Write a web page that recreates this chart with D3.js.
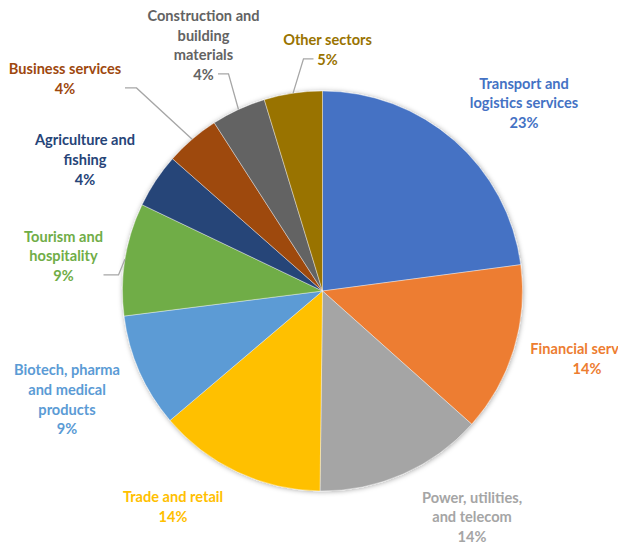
<!DOCTYPE html>
<html><head><meta charset="utf-8">
<script src="https://cdn.jsdelivr.net/npm/d3@7"></script>
<style>body{margin:0;background:#fff}svg{display:block}</style>
</head><body>
<svg id="chart" width="618" height="545"></svg>
<script>
const categories = ["Transport and logistics services","Financial services","Power, utilities, and telecom","Trade and retail","Biotech, pharma and medical products","Tourism and hospitality","Agriculture and fishing","Business services","Construction and building materials","Other sectors"];
const values = [22.9,13.7,13.6,13.6,9.2,9.1,4.4,4.4,4.4,4.7];
const colors = ["#4472C4","#ED7D31","#A5A5A5","#FFC000","#5B9BD5","#70AD47","#264478","#9E480E","#636363","#997300"];
// label layout: text lines, center x, center y of first line, leader line (start x, elbow x) or null
const labelLines = [["Transport and","logistics services"],["Financial services"],["Power, utilities,","and telecom"],["Trade and retail"],["Biotech, pharma","and medical","products"],["Tourism and","hospitality"],["Agriculture and","fishing"],["Business services"],["Construction and","building","materials"],["Other sectors"]];
const labelPos = [[524,82.7],[587,348.3],[472,496.7],[173,496],[67,369.3],[63.5,235.7],[85,139.3],[65,68.3],[203.5,15],[327.5,39.3]];
const leaders = [null,null,null,null,null,[103.5,118.5],null,[125,136.5],[218,228.5],[313.5,303.5]];

const svg = d3.select("#chart");
const cx = 322.5, cy = 291, r = 200;
const defs = svg.append("defs");
const f = defs.append("filter").attr("id","sh").attr("x","-20%").attr("y","-20%").attr("width","140%").attr("height","140%");
f.append("feDropShadow").attr("dx",0.5).attr("dy",0.5).attr("stdDeviation",2.5).attr("flood-color","#000").attr("flood-opacity",0.35);

const pie = d3.pie().sort(null).value(d=>d);
const arcs = pie(values);
const arc = d3.arc().innerRadius(0).outerRadius(r);
const edge = d3.arc().innerRadius(r).outerRadius(r);
const g = svg.append("g").attr("transform",`translate(${cx},${cy})`);
g.append("g").attr("filter","url(#sh)").selectAll("path").data(arcs).join("path")
  .attr("d",arc).attr("fill",(d,i)=>colors[i]).attr("stroke","#fff").attr("stroke-width",0.4);

const fmt = v => Math.round(v) + "%";
const lh = 19.6;
// leader lines
arcs.forEach((d,i)=>{
  const L = leaders[i]; if(!L) return;
  const [ex,ey] = edge.centroid(d);
  const ly = labelPos[i][1] + lh*labelLines[i].length;
  svg.append("polyline").attr("points",`${L[0]},${ly} ${L[1]},${ly} ${cx+ex},${cy+ey}`)
    .attr("fill","none").attr("stroke","#A6A6A6").attr("stroke-width",1.3);
});
// labels
const lab = svg.append("g").attr("font-family","Lato, 'Open Sans', sans-serif").attr("font-weight","bold").attr("font-size","14.6px").attr("text-anchor","middle");
arcs.forEach((d,i)=>{
  const lines = labelLines[i].concat([fmt(values[i])]);
  const t = lab.append("text").attr("fill",colors[i]).attr("x",labelPos[i][0]).attr("y",labelPos[i][1]).attr("dominant-baseline","central");
  lines.forEach((s,k)=>t.append("tspan").attr("x",labelPos[i][0]).attr("y",labelPos[i][1]+k*lh).text(s));
});
</script>
</body></html>
